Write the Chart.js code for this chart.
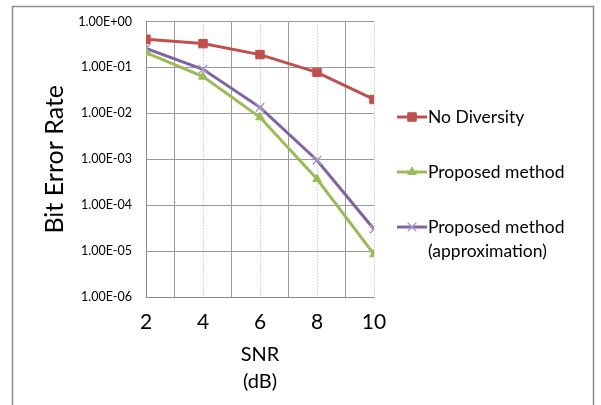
<!DOCTYPE html>
<html>
<head>
<meta charset="utf-8">
<script src="https://cdn.jsdelivr.net/npm/chart.js@4.4.1/dist/chart.umd.min.js"></script>
<style>
  body { margin: 0; background: #fff; }
  canvas { display: block; }
</style>
</head>
<body>
<canvas id="chart" width="601" height="405"></canvas>
<script>
// SNR (dB) points
const snr = [2, 4, 6, 8, 10];
// bit error rates
const noDiversity = [0.41, 0.33, 0.19, 0.078, 0.02];
const proposed = [0.21, 0.063, 0.0082, 0.00037, 0.0000085];
const approximation = [0.26, 0.091, 0.0135, 0.00095, 0.00003];
const yTicks = [1e-6, 1e-5, 1e-4, 1e-3, 1e-2, 1e-1, 1];
const xLabels = [2, 4, 6, 8, 10];

const FONT = 'Lato, "Open Sans", sans-serif';

function fmtSci(v) {
  const e = Math.round(Math.log10(v));
  const m = v / Math.pow(10, e);
  const sign = e < 0 ? '-' : '+';
  return m.toFixed(2) + 'E' + sign + String(Math.abs(e)).padStart(2, '0');
}

// frame around the whole chart
const frame = {
  id: 'frame',
  beforeDraw(chart) {
    const c = chart.ctx;
    c.save();
    c.strokeStyle = '#8c8c8c';
    c.lineWidth = 1.5;
    c.strokeRect(12.5, 6.5, 581, 420);
    c.restore();
  }
};

// legend on the right, drawn like the Excel one
const sideLegend = {
  id: 'sideLegend',
  afterDraw(chart) {
    const c = chart.ctx;
    const rows = [117, 172, 227];
    c.save();
    chart.data.datasets.forEach((ds, i) => {
      const y = rows[i];
      c.strokeStyle = ds.borderColor;
      c.lineWidth = 3;
      c.beginPath();
      c.moveTo(397, y);
      c.lineTo(427, y);
      c.stroke();
      c.fillStyle = ds.pointBackgroundColor;
      c.strokeStyle = ds.pointBorderColor;
      c.lineWidth = ds.pointBorderWidth;
      Chart.helpers.drawPoint(c, {
        pointStyle: ds.pointStyle, radius: ds.pointRadius, rotation: 0,
        borderWidth: ds.pointBorderWidth
      }, 412, y);
      c.fillStyle = '#000';
      c.font = '17.5px ' + FONT;
      c.textBaseline = 'middle';
      c.textAlign = 'left';
      ds.label.split('\n').forEach((t, k) => c.fillText(t, 428, y + k * 24));
    });
    c.restore();
  }
};

new Chart(document.getElementById('chart'), {
  type: 'line',
  data: {
    datasets: [
      {
        label: 'No Diversity',
        data: snr.map((x, i) => ({ x: x, y: noDiversity[i] })),
        borderColor: '#C0504D',
        backgroundColor: '#C0504D',
        pointBackgroundColor: '#C0504D',
        pointBorderColor: '#C0504D',
        pointStyle: 'rect',
        pointRadius: 6,
        pointBorderWidth: 1,
        borderWidth: 3,
        tension: 0
      },
      {
        label: 'Proposed method',
        data: snr.map((x, i) => ({ x: x, y: proposed[i] })),
        borderColor: '#9BBB59',
        backgroundColor: '#9BBB59',
        pointBackgroundColor: '#9BBB59',
        pointBorderColor: '#9BBB59',
        pointStyle: 'triangle',
        pointRadius: 5,
        pointBorderWidth: 1,
        borderWidth: 3,
        tension: 0
      },
      {
        label: 'Proposed method\n(approximation)',
        data: snr.map((x, i) => ({ x: x, y: approximation[i] })),
        borderColor: '#8064A2',
        backgroundColor: '#8064A2',
        pointBackgroundColor: '#A99BC8',
        pointBorderColor: '#A99BC8',
        pointStyle: 'crossRot',
        pointRadius: 6,
        pointBorderWidth: 1.5,
        borderWidth: 3,
        tension: 0
      }
    ]
  },
  options: {
    responsive: false,
    animation: false,
    layout: { padding: { left: 41, right: 227, top: 21, bottom: 10 } },
    plugins: {
      legend: { display: false },
      tooltip: { enabled: false }
    },
    scales: {
      x: {
        type: 'linear',
        min: 2,
        max: 10,
        afterFit(scale) { scale.height = 98; },
        ticks: {
          stepSize: 1,
          autoSkip: false,
          maxRotation: 0,
          padding: 13,
          color: '#000',
          font: { family: FONT, size: 21 },
          callback: v => xLabels.includes(v) ? String(v) : ''
        },
        grid: {
          drawTicks: false,
          color: ctx => (ctx.index % 2 === 0 ? '#b0b0b0' : '#9a9a9a'),
          lineWidth: 1
        },
        border: {
          display: true,
          color: '#8c8c8c',
          width: 1,
          dash: ctx => (ctx.index !== undefined && ctx.index % 2 === 0 && ctx.index > 0 ? [1, 2] : [])
        },
        title: {
          display: true,
          text: ['SNR', '(dB)'],
          color: '#000',
          padding: 0,
          font: { family: FONT, size: 20, lineHeight: 1.35 }
        }
      },
      y: {
        type: 'logarithmic',
        min: 1e-6,
        max: 1,
        afterFit(scale) { scale.width = 105; },
        afterBuildTicks(scale) {
          scale.ticks = yTicks.map(v => ({ value: v }));
        },
        ticks: {
          padding: 14,
          color: '#000',
          font: { family: FONT, size: 12.5 },
          callback: v => fmtSci(v)
        },
        grid: {
          drawTicks: false,
          color: '#9a9a9a',
          lineWidth: 1
        },
        border: { display: true, color: '#8c8c8c', width: 1 },
        title: {
          display: true,
          text: 'Bit Error Rate',
          color: '#000',
          padding: 0,
          font: { family: FONT, size: 25, lineHeight: 1.1 }
        }
      }
    }
  },
  plugins: [frame, sideLegend]
});
</script>
</body>
</html>
